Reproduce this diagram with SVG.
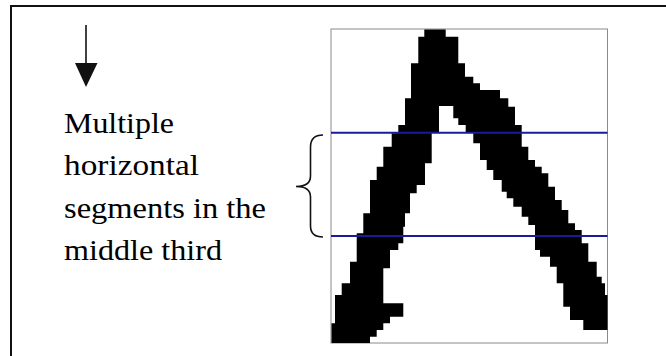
<svg xmlns="http://www.w3.org/2000/svg" width="666" height="356" viewBox="0 0 666 356">
  <style>
    .lbl { font-family: "Liberation Serif", "Times New Roman", serif; font-size: 30px; fill: #000; }
    .blue { stroke: #1a1a9a; stroke-width: 2; }
  </style>
  <rect x="0" y="0" width="666" height="356" fill="#ffffff"/>
  <rect id="frame" x="11" y="6" width="720" height="420" fill="none" stroke="#111" stroke-width="2"/>

  <g id="arrow">
    <line x1="86" y1="25" x2="86" y2="64" stroke="#111" stroke-width="1.6"/>
    <polygon points="75,63 97.5,63 86,87" fill="#111"/>
  </g>

  <g id="label">
    <text class="lbl" x="64" y="133.3" textLength="110" lengthAdjust="spacingAndGlyphs">Multiple</text>
    <text class="lbl" x="64" y="175.3" textLength="135" lengthAdjust="spacingAndGlyphs">horizontal</text>
    <text class="lbl" x="64" y="218" textLength="202" lengthAdjust="spacingAndGlyphs">segments in the</text>
    <text class="lbl" x="64" y="260" textLength="158" lengthAdjust="spacingAndGlyphs">middle third</text>
  </g>

  <g id="brace">
    <path d="M323,135 C314,135 310.5,139 310.5,147 V176 C310.5,183 306,186.5 296,186.5 C306,186.5 310.5,190 310.5,197 V226 C310.5,233 314,237 323,237" fill="none" stroke="#111" stroke-width="1.6"/>
  </g>

  <g id="letter-image">
    <rect x="331" y="29" width="276.5" height="314" fill="#ffffff" stroke="#8a8a8a" stroke-width="1"/>
    <path fill="#000" d="M424.3,29.5 V36.7 H418.3 V63.3 H411 V98.3 H405 V125 H398.3 V133.3 H391.7 V146.7 H383.3 V166.7 H376.7 V180 H370 V213.3 H363.3 V233.3 H356.7 V261.7 H350 V283.3 H341.7 V295 H335 V323.3 H331.5 V343 H370 V336.7 H376.7 V330 H383.3 V323.3 H390 V316.7 H403.3 V303.3 H383.3 V268.3 H390 V250 H398.3 V243.3 H403.3 V226.7 H405 V213.3 H410 V193.3 H416.7 V185 H425 V163.3 H431.7 V132.7 H439 V106 H453.3 V118.3 H458.3 V125 H465.7 V132.7 H473.3 V143.3 H480 V160 H486.7 V170 H493.3 V180 H501.7 V191.7 H506.7 V198.3 H513.3 V206.7 H521.7 V216.7 H528.3 V225 H535 V250 H540 V256.7 H550 V266.7 H556.7 V283.3 H563.3 V306.7 H570 V320 H583.3 V330 H607.5 V295 H605 V283.3 H601.7 V276.7 H596.7 V261.7 H588.3 V243.3 H581.7 V230 H575 V223.3 H568.3 V210 H561.7 V200 H555 V186.7 H548.3 V173.3 H541.7 V166.7 H535 V160 H528.3 V146.7 H521.7 V125 H515 V106.7 H508.3 V98.3 H500 V90 H480 V83.3 H473.3 V76.7 H465 V63.3 H458.3 V36.7 H445.7 V29.5 Z"/>
    <line class="blue" x1="331" y1="132.7" x2="607.5" y2="132.7"/>
    <line class="blue" x1="331" y1="236" x2="607.5" y2="236"/>
  </g>
</svg>
